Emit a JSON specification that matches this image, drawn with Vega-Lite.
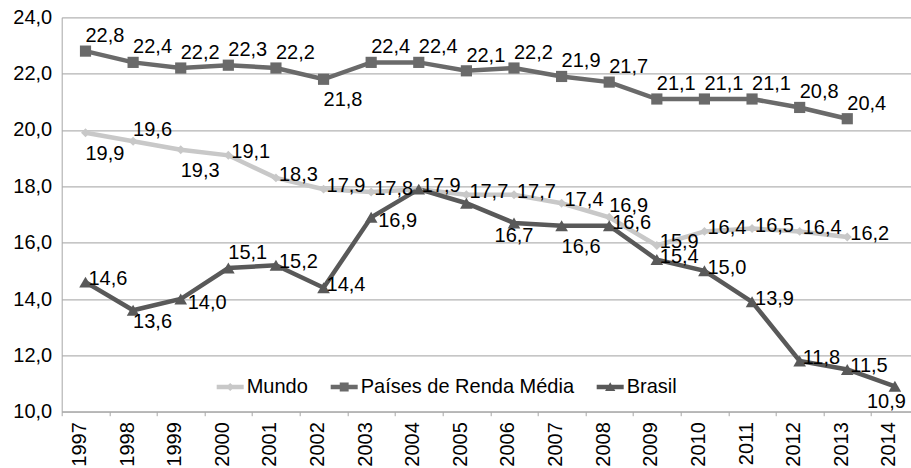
{
  "$schema": "https://vega.github.io/schema/vega-lite/v6.json",
  "width": 849,
  "height": 394.4,
  "autosize": "none",
  "padding": {"left": 61.7, "top": 17.3, "right": 0, "bottom": 56.3},
  "background": "white",
  "config": {
    "locale": {"number": {"decimal": ",", "thousands": ".", "grouping": [3], "currency": ["", ""]}},
    "font": "Liberation Sans",
    "view": {"stroke": null}
  },
  "data": {
    "values": [
      {"series": "Mundo", "year": "1997", "value": 19.9},
      {"series": "Mundo", "year": "1998", "value": 19.6},
      {"series": "Mundo", "year": "1999", "value": 19.3},
      {"series": "Mundo", "year": "2000", "value": 19.1},
      {"series": "Mundo", "year": "2001", "value": 18.3},
      {"series": "Mundo", "year": "2002", "value": 17.9},
      {"series": "Mundo", "year": "2003", "value": 17.8},
      {"series": "Mundo", "year": "2004", "value": 17.9},
      {"series": "Mundo", "year": "2005", "value": 17.7},
      {"series": "Mundo", "year": "2006", "value": 17.7},
      {"series": "Mundo", "year": "2007", "value": 17.4},
      {"series": "Mundo", "year": "2008", "value": 16.9},
      {"series": "Mundo", "year": "2009", "value": 15.9},
      {"series": "Mundo", "year": "2010", "value": 16.4},
      {"series": "Mundo", "year": "2011", "value": 16.5},
      {"series": "Mundo", "year": "2012", "value": 16.4},
      {"series": "Mundo", "year": "2013", "value": 16.2},
      {"series": "Países de Renda Média", "year": "1997", "value": 22.8},
      {"series": "Países de Renda Média", "year": "1998", "value": 22.4},
      {"series": "Países de Renda Média", "year": "1999", "value": 22.2},
      {"series": "Países de Renda Média", "year": "2000", "value": 22.3},
      {"series": "Países de Renda Média", "year": "2001", "value": 22.2},
      {"series": "Países de Renda Média", "year": "2002", "value": 21.8},
      {"series": "Países de Renda Média", "year": "2003", "value": 22.4},
      {"series": "Países de Renda Média", "year": "2004", "value": 22.4},
      {"series": "Países de Renda Média", "year": "2005", "value": 22.1},
      {"series": "Países de Renda Média", "year": "2006", "value": 22.2},
      {"series": "Países de Renda Média", "year": "2007", "value": 21.9},
      {"series": "Países de Renda Média", "year": "2008", "value": 21.7},
      {"series": "Países de Renda Média", "year": "2009", "value": 21.1},
      {"series": "Países de Renda Média", "year": "2010", "value": 21.1},
      {"series": "Países de Renda Média", "year": "2011", "value": 21.1},
      {"series": "Países de Renda Média", "year": "2012", "value": 20.8},
      {"series": "Países de Renda Média", "year": "2013", "value": 20.4},
      {"series": "Brasil", "year": "1997", "value": 14.6},
      {"series": "Brasil", "year": "1998", "value": 13.6},
      {"series": "Brasil", "year": "1999", "value": 14.0},
      {"series": "Brasil", "year": "2000", "value": 15.1},
      {"series": "Brasil", "year": "2001", "value": 15.2},
      {"series": "Brasil", "year": "2002", "value": 14.4},
      {"series": "Brasil", "year": "2003", "value": 16.9},
      {"series": "Brasil", "year": "2004", "value": 17.9},
      {"series": "Brasil", "year": "2005", "value": 17.4},
      {"series": "Brasil", "year": "2006", "value": 16.7},
      {"series": "Brasil", "year": "2007", "value": 16.6},
      {"series": "Brasil", "year": "2008", "value": 16.6},
      {"series": "Brasil", "year": "2009", "value": 15.4},
      {"series": "Brasil", "year": "2010", "value": 15.0},
      {"series": "Brasil", "year": "2011", "value": 13.9},
      {"series": "Brasil", "year": "2012", "value": 11.8},
      {"series": "Brasil", "year": "2013", "value": 11.5},
      {"series": "Brasil", "year": "2014", "value": 10.9}
    ]
  },
  "encoding": {
    "x": {
      "field": "year",
      "type": "ordinal",
      "scale": {"type": "band", "range": [0, 857], "paddingInner": 0, "paddingOuter": 0},
      "axis": {
        "title": null,
        "labelAngle": -90,
        "labelAlign": "right",
        "labelBaseline": "alphabetic",
        "labelFontSize": 20,
        "labelColor": "black",
        "tickSize": 4,
        "tickColor": "#a6a6a6",
        "domainColor": "#a6a6a6",
        "labelPadding": 6,
        "grid": false,
        "tickBand": "extent"
      }
    },
    "y": {
      "field": "value",
      "type": "quantitative",
      "scale": {"domain": [10, 24], "nice": false, "zero": false},
      "axis": {
        "title": null,
        "values": [10, 12, 14, 16, 18, 20, 22, 24],
        "format": ".1f",
        "ticks": false,
        "labelPadding": 10,
        "labelFontSize": 20,
        "labelColor": "black",
        "grid": true,
        "gridColor": "#b3b3b3",
        "gridWidth": 1.3,
        "domainColor": "#a6a6a6"
      }
    }
  },
  "layer": [
    {
      "mark": {"type": "line", "strokeWidth": 4.5},
      "encoding": {
        "color": {
          "field": "series",
          "type": "nominal",
          "scale": {"domain": ["Mundo", "Países de Renda Média", "Brasil"], "range": ["#c8c8c8", "#6a6a6a", "#595959"]},
          "legend": {
            "orient": "none",
            "legendX": 155,
            "legendY": 356,
            "direction": "horizontal",
            "title": null,
            "labelFontSize": 20,
            "labelColor": "black",
            "labelLimit": 500,
            "symbolSize": 729,
            "labelOffset": 3,
            "columnPadding": 22,
            "symbolStrokeWidth": 0,
            "encode": {
              "symbols": {
                "update": {
                  "shape": {"signal": "datum.value === 'Mundo' ? 'M-1,-0.167H1V0.167H-1Z M0,-0.3L0.33,0L0,0.3L-0.33,0Z' : datum.value === 'Brasil' ? 'M-1,-0.167H1V0.167H-1Z M0,-0.36L0.38,0.3H-0.38Z' : 'M-1,-0.167H1V0.167H-1Z M-0.33,-0.33H0.33V0.33H-0.33Z'"},
                  "fill": {"scale": "color", "field": "value"},
                  "stroke": {"value": "transparent"},
                  "opacity": {"value": 1}
                }
              }
            }
          }
        }
      }
    },
    {
      "transform": [{"filter": "datum.series === 'Mundo'"}],
      "mark": {"type": "point", "filled": true, "opacity": 1, "shape": "diamond", "size": 80, "color": "#c8c8c8"},
      "encoding": {}
    },
    {
      "transform": [{"filter": "datum.series === 'Países de Renda Média'"}],
      "mark": {"type": "point", "filled": true, "opacity": 1, "shape": "square", "size": 125, "color": "#6a6a6a"},
      "encoding": {}
    },
    {
      "transform": [{"filter": "datum.series === 'Brasil'"}],
      "mark": {"type": "point", "filled": true, "opacity": 1, "shape": "triangle-up", "size": 160, "color": "#595959"},
      "encoding": {}
    },
    {
      "transform": [{"filter": "(datum.series === 'Países de Renda Média' && datum.year !== '2002') || (datum.series === 'Brasil' && datum.year === '2000')"}],
      "mark": {"type": "text", "align": "left", "baseline": "alphabetic", "dx": 0, "dy": -9, "fontSize": 20, "color": "black"},
      "encoding": {"text": {"field": "value", "type": "quantitative", "format": ".1f"}}
    },
    {
      "transform": [{"filter": "datum.series === 'Mundo' && indexof(['1998', '2008'], datum.year) >= 0"}],
      "mark": {"type": "text", "align": "left", "baseline": "alphabetic", "dx": 0, "dy": -5, "fontSize": 20, "color": "black"},
      "encoding": {"text": {"field": "value", "type": "quantitative", "format": ".1f"}}
    },
    {
      "transform": [{"filter": "(datum.series === 'Mundo' && indexof(['1997', '1998', '1999', '2008'], datum.year) < 0) || (datum.series === 'Brasil' && indexof(['1997', '2001', '2002', '2008', '2009', '2010', '2011', '2012', '2013'], datum.year) >= 0)"}],
      "mark": {"type": "text", "align": "left", "baseline": "alphabetic", "dx": 3, "dy": 3, "fontSize": 20, "color": "black"},
      "encoding": {"text": {"field": "value", "type": "quantitative", "format": ".1f"}}
    },
    {
      "transform": [{"filter": "(datum.series === 'Mundo' && indexof(['1997', '1999'], datum.year) >= 0) || (datum.series === 'Países de Renda Média' && datum.year === '2002') || (datum.series === 'Brasil' && datum.year === '2007')"}],
      "mark": {"type": "text", "align": "left", "baseline": "alphabetic", "dx": 0, "dy": 27, "fontSize": 20, "color": "black"},
      "encoding": {"text": {"field": "value", "type": "quantitative", "format": ".1f"}}
    },
    {
      "transform": [{"filter": "datum.series === 'Brasil' && datum.year === '1998'"}],
      "mark": {"type": "text", "align": "left", "baseline": "alphabetic", "dx": 0, "dy": 18, "fontSize": 20, "color": "black"},
      "encoding": {"text": {"field": "value", "type": "quantitative", "format": ".1f"}}
    },
    {
      "transform": [{"filter": "datum.series === 'Brasil' && datum.year === '2006'"}],
      "mark": {"type": "text", "align": "center", "baseline": "alphabetic", "dx": 0, "dy": 19, "fontSize": 20, "color": "black"},
      "encoding": {"text": {"field": "value", "type": "quantitative", "format": ".1f"}}
    },
    {
      "transform": [{"filter": "datum.series === 'Brasil' && datum.year === '2014'"}],
      "mark": {"type": "text", "align": "right", "baseline": "alphabetic", "dx": 11, "dy": 22, "fontSize": 20, "color": "black"},
      "encoding": {"text": {"field": "value", "type": "quantitative", "format": ".1f"}}
    },
    {
      "transform": [{"filter": "datum.series === 'Brasil' && indexof(['1999', '2003'], datum.year) >= 0"}],
      "mark": {"type": "text", "align": "left", "baseline": "alphabetic", "dx": 7, "dy": 10, "fontSize": 20, "color": "black"},
      "encoding": {"text": {"field": "value", "type": "quantitative", "format": ".1f"}}
    }
  ]
}
